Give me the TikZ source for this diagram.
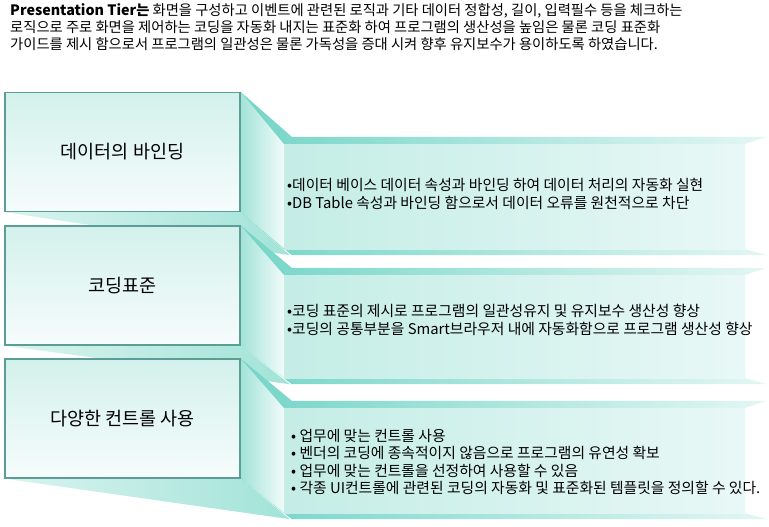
\documentclass[tikz,border=0pt]{standalone}
\usepackage{fontspec}
\setmainfont{Noto Sans CJK KR}
\usetikzlibrary{backgrounds,calc,positioning}
\definecolor{tealband}{HTML}{74D5C7}
\definecolor{tealside}{HTML}{A2E3D8}
\definecolor{tealpale}{HTML}{E8F8F6}
\definecolor{tealface}{HTML}{C4EDE6}
\definecolor{tealedge}{HTML}{5C9E96}
\definecolor{boxtop}{HTML}{D3F1EC}
\definecolor{boxbottom}{HTML}{F6FCFC}
\tikzset{
  tier/.style={
    draw=tealedge,
    line width=1.2pt,
    top color=boxtop,
    bottom color=boxbottom,
    minimum width=235pt,
    minimum height=119pt,
    inner sep=0pt,
    font=\fontsize{18.5}{22}\selectfont
  },
  panel/.style={
    left color=tealface,
    right color=tealpale,
    minimum width=461pt,
    inner sep=0pt
  },
  detail/.style={
    anchor=west,
    align=left,
    inner sep=0pt,
    font=\fontsize{14.8}{17.5}\selectfont
  },
  band/.style={
    left color=tealband,
    right color=tealband!20!white
  },
  side/.style={
    left color=tealside,
    right color=tealpale!60!white
  },
  shadow/.style={
    left color=tealside!40!white,
    right color=tealside
  }
}

\begin{document}
\begin{tikzpicture}[x=1pt,y=-1pt]
\useasboundingbox (0,0) rectangle (769,527);
\node[anchor=north west,align=left,inner sep=0pt,font=\fontsize{14.3}{17}\selectfont] (intro) at (10,3.5)
  {\textbf{Presentation Tier는} 화면을 구성하고 이벤트에 관련된 로직과 기타 데이터 정합성, 길이, 입력필수 등을 체크하는\\
   로직으로 주로 화면을 제어하는 코딩을 자동화 내지는 표준화 하여 프로그램의 생산성을 높임은 물론 코딩 표준화\\
   가이드를 제시 함으로서 프로그램의 일관성은 물론 가독성을 증대 시켜 향후 유지보수가 용이하도록 하였습니다.};
% left boxes
\node[tier] (data) at (122.5,152) {데이터의 바인딩};
\node[tier] (coding) at (122.5,285.5) {코딩표준};
\node[tier] (ctrl) at (122.5,418.5) {다양한 컨트롤 사용};
% right panels
\node[panel,minimum height=105pt] (dataP) at (514.5,196.5) {};
\node[panel,minimum height=103pt] (codingP) at (514.5,326.5) {};
\node[panel,minimum height=105pt] (ctrlP) at (514.5,460.5) {};
\node[detail] (dataT) at (287,194)
  {•데이터 베이스 데이터 속성과 바인딩 하여 데이터 처리의 자동화 실현\\
   •DB Table 속성과 바인딩 함으로서 데이터 오류를 원천적으로 차단};
\node[detail] (codingT) at (287,320)
  {•코딩 표준의 제시로 프로그램의 일관성유지 및 유지보수 생산성 향상\\
   •코딩의 공통부분을 Smart브라우저 내에 자동화함으로 프로그램 생산성 향상};
\node[detail] (ctrlT) at (291,462)
  {• 업무에 맞는 컨트롤 사용\\
   • 벤더의 코딩에 종속적이지 않음으로 프로그램의 유연성 확보\\
   • 업무에 맞는 컨트롤을 선정하여 사용할 수 있음\\
   • 각종 UI컨트롤에 관련된 코딩의 자동화 및 표준화된 템플릿을 정의할 수 있다.};
% 3d faces behind
\begin{scope}[on background layer]
\foreach \b/\p in {data/dataP,coding/codingP,ctrl/ctrlP}{
  \shade[shadow] (\b.south west) -- (\b.south east) -- ($(\p.south west)+(6,6)$) -- cycle;
  \shade[side] (\b.north east) -- (\p.north west) -- (\p.south west) -- (\b.south east) -- cycle;
  \shade[band] (\b.north east) -- ($(\p.north west)+(8,-7)$) -- ($(\p.north east)+(22,-7)$)
    -- (\p.north east) -- (\p.north west) -- cycle;
  \shade[band] (\b.south east) -- (\p.south west) -- (\p.south east)
    -- ($(\p.south east)+(22,6)$) -- ($(\p.south west)+(8,6)$) -- cycle;
}
\end{scope}
\end{tikzpicture}
\end{document}
